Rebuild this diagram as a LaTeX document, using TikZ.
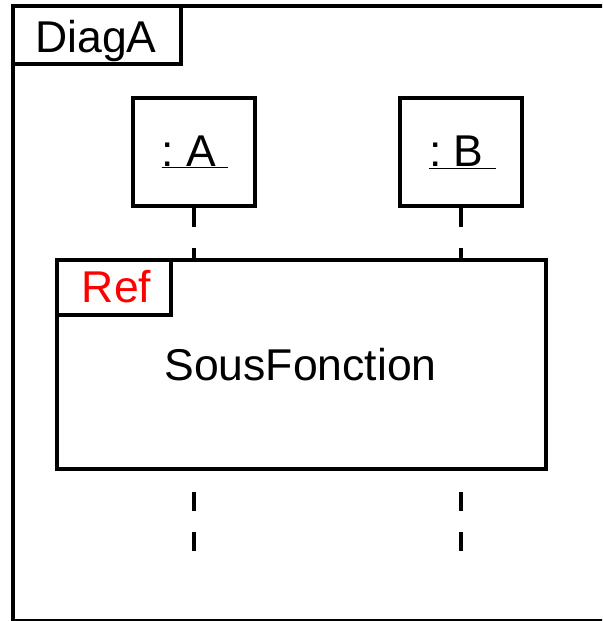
\documentclass[tikz,border=0pt]{standalone}
\usepackage{fontspec}
\setmainfont{Liberation Sans}
\usetikzlibrary{positioning,calc}
\tikzset{
objbox/.style={draw=black,line width=3pt,minimum width=3.66cm,minimum height=3.24cm,inner sep=0pt},
refbox/.style={draw=black,line width=3pt,minimum width=14.67cm,minimum height=6.27cm,inner sep=0pt},
tabline/.style={draw=black,line width=3pt},
lifeline/.style={black,line width=3pt,dash pattern=on 0.57cm off 0.63cm},
big/.style={font=\fontsize{38}{46}\selectfont,inner sep=0pt,anchor=base}
}

\begin{document}
\begin{tikzpicture}[x=0.03cm,y=-0.03cm]
\useasboundingbox (0,0) rectangle (602,621);
\clip (0,0) rectangle (602,621);
\draw[tabline] (640,6) -- (13,6) -- (13,621) -- (640,621);
\draw[tabline] (13,64) -- (181,64) -- (181,6);
\node[big] (diag) at (96,53) {DiagA};
\node[objbox] (a) at (194,152) {};
\node[objbox] (b) at (461,152) {};
\node[big] (alab) at (195,166) {\underline{:\ A\ }};
\node[big] (blab) at (462.5,167) {\underline{:\ B\ }};
\node[refbox] (ref) at (301.5,364.5) {};
\draw[tabline] ($(ref.north west)+(0,57)$) -| ($(ref.north west)+(116,0)$);
\node[big,red] (reflab) at (116.5,302) {Ref};
\node[big] (sous) at (300.5,380) {SousFonction};
\draw[lifeline] (a.south) -- (a.south |- ref.north);
\draw[lifeline] (b.south) -- (b.south |- ref.north);
\coordinate (aend) at ($(a.south |- ref.south)+(0,80)$);
\coordinate (bend) at ($(b.south |- ref.south)+(0,80)$);
\draw[lifeline,dash phase=0.57cm] (a.south |- ref.south) -- (aend);
\draw[lifeline,dash phase=0.57cm] (b.south |- ref.south) -- (bend);
\end{tikzpicture}
\end{document}
